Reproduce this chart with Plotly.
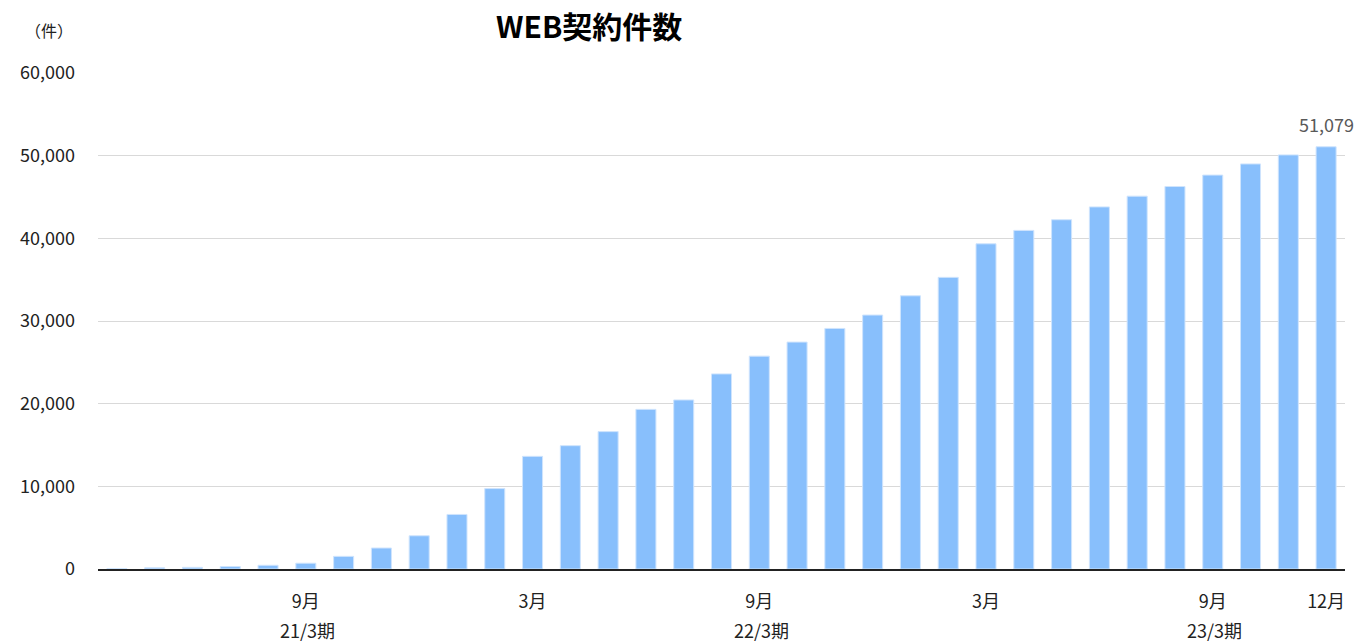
import plotly.graph_objects as go

months = ["2020-04","2020-05","2020-06","2020-07","2020-08","2020-09","2020-10","2020-11","2020-12",
          "2021-01","2021-02","2021-03","2021-04","2021-05","2021-06","2021-07","2021-08","2021-09",
          "2021-10","2021-11","2021-12","2022-01","2022-02","2022-03","2022-04","2022-05","2022-06",
          "2022-07","2022-08","2022-09","2022-10","2022-11","2022-12"]
values = [40, 150, 200, 300, 450, 700, 1530, 2540, 4020,
          6600, 9730, 13630, 14920, 16620, 19310, 20450, 23600, 25750,
          27450, 29100, 30720, 33050, 35280, 39340, 40960, 42250, 43800,
          45100, 46270, 47650, 49000, 50090, 51079]
tick_months = ["2020-09", "2021-03", "2021-09", "2022-03", "2022-09", "2022-12"]
tick_labels = ["9月", "3月", "9月", "3月", "9月", "12月"]
fy_months = ["2020-09", "2021-09", "2022-09"]
fy_labels = ["21/3期", "22/3期", "23/3期"]
y_ticks = [0, 10000, 20000, 30000, 40000, 50000, 60000]

font_family = "Noto Sans CJK JP, Noto Sans, sans-serif"

fig = go.Figure()
fig.add_trace(go.Bar(
    x=months, y=values,
    marker=dict(color="#88BFFC", line=dict(color="#cfe4fd", width=1)),
    hoverinfo="x+y",
))

fig.add_annotation(x=months[-1], y=values[-1], text=f"{values[-1]:,}", showarrow=False,
                   xanchor="center", yanchor="bottom", yshift=8, xshift=0,
                   font=dict(size=18, color="#595959", family=font_family))

for m, lab in zip(fy_months, fy_labels):
    fig.add_annotation(x=m, y=0, yref="paper", text=lab, showarrow=False,
                       xanchor="center", yanchor="middle", yshift=-61, xshift=2,
                       font=dict(size=18, color="#222222", family=font_family))

fig.add_annotation(x=-0.039, xref="paper", y=1.0, yref="paper", text="（件）",
                   showarrow=False, xanchor="center", yanchor="middle", yshift=43,
                   font=dict(size=16, color="#222222", family=font_family))

fig.add_annotation(x=0.394, xref="paper", y=1.0, yref="paper", text="<b>WEB契約件数</b>",
                   showarrow=False, xanchor="center", yanchor="middle", yshift=48,
                   font=dict(size=30, color="#000000", family=font_family))

fig.update_layout(
    width=1355, height=644,
    margin=dict(l=98, r=10, t=73, b=75, autoexpand=False),
    paper_bgcolor="white", plot_bgcolor="white",
    bargap=0.47,
    showlegend=False,
    font=dict(family=font_family, size=18, color="#222222"),
)
fig.update_xaxes(
    type="category", tickmode="array", tickvals=tick_months, ticktext=tick_labels,
    range=[-0.5, len(months) - 0.5],
    showline=True, linecolor="#222222", linewidth=1.5, ticks="", showgrid=False,
    tickfont=dict(size=18, color="#222222"), ticklabelstandoff=16, automargin=False,
)
fig.update_yaxes(
    range=[0, 60000], tickmode="array", tickvals=y_ticks, tickformat=",",
    showgrid=True, gridcolor="#d9d9d9", gridwidth=1, zeroline=False, automargin=False,
    showline=False, ticks="", tickfont=dict(size=18, color="#222222"), ticklabelstandoff=22,
)

fig.write_html("out.html")
